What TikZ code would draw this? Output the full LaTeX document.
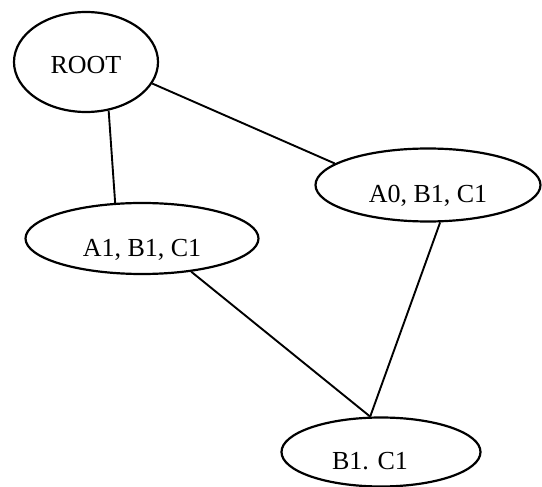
\documentclass[tikz,border=0pt]{standalone}
\usepackage{fontspec}
\setmainfont{Liberation Serif}
\usetikzlibrary{shapes,positioning}
\tikzstyle{state} = [ellipse, draw, line width=2.2pt, inner sep=0pt, text height=36pt, text depth=0pt, font=\fontsize{26}{30}\selectfont]
\tikzstyle{line} = [draw, line width=1.9pt]

\begin{document}
\begin{tikzpicture}[on grid]
		\useasboundingbox (-86pt,62pt) rectangle (456pt,-425pt);
		% Row 1
		\node[state, minimum width=144pt, minimum height=100pt, text height=24pt] (root) {ROOT};
		\node[state, minimum width=225pt, minimum height=73pt, below right=123pt and 342pt of root] (a0) {A0, B1, C1};
		
		% Row 2
		\node[state, minimum width=233pt, minimum height=71pt, below right=176.5pt and 56pt of root] (a1) {A1, B1, C1};
		
		% Row 3
		\node[state, minimum width=199pt, minimum height=69pt, below left=267pt and 47pt of a0] (b1) {B1. C1\hspace*{22pt}};
		
		% Paths
		\path [line] (root.-65) -- (a1.127);
		\path [line] (root.-18) -- (a0.167);
		\path [line] (a1.-34) -- (b1.107);
		\path [line] (a0.-72) -- (b1.107);
		
	\end{tikzpicture}
\end{document}
